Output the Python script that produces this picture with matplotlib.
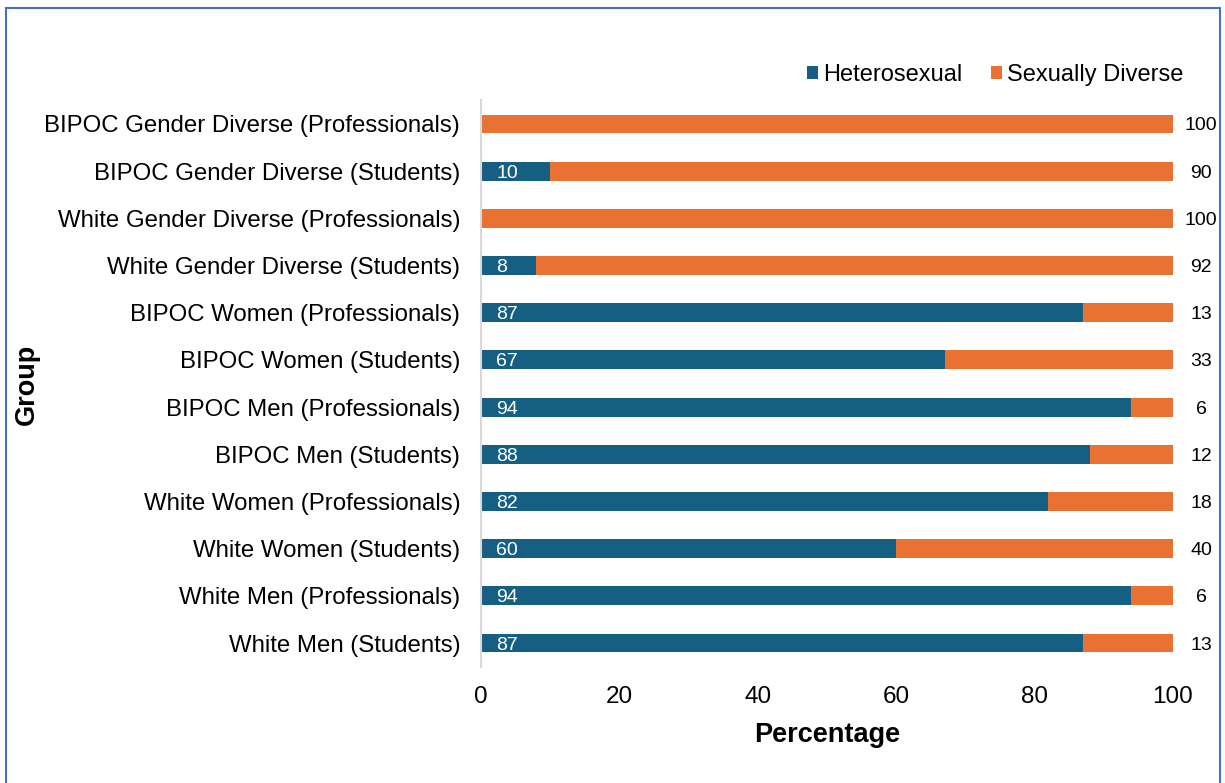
import matplotlib.pyplot as plt
from matplotlib.patches import Rectangle

plt.rcParams['font.family'] = ['Liberation Sans', 'DejaVu Sans']

# groups from bottom to top
groups = ['White Men (Students)', 'White Men (Professionals)',
          'White Women (Students)', 'White Women (Professionals)',
          'BIPOC Men (Students)', 'BIPOC Men (Professionals)',
          'BIPOC Women (Students)', 'BIPOC Women (Professionals)',
          'White Gender Diverse (Students)', 'White Gender Diverse (Professionals)',
          'BIPOC Gender Diverse (Students)', 'BIPOC Gender Diverse (Professionals)']
hetero = [87, 94, 60, 82, 88, 94, 67, 87, 8, 0, 10, 0]
diverse = [13, 6, 40, 18, 12, 6, 33, 13, 92, 100, 90, 100]

blue = '#156082'
orange = '#E97132'

fig = plt.figure(figsize=(12.25, 7.83), dpi=100)
ax = fig.add_axes([481/1225, 1-666.6/783, (1173-481)/1225, (666.6-100.4)/783])

y = range(len(groups))
ax.barh(y, hetero, height=0.4, color=blue, label='Heterosexual')
ax.barh(y, diverse, left=hetero, height=0.4, color=orange, label='Sexually Diverse')

# value labels
for i in y:
    if hetero[i] > 0:
        ax.annotate(str(hetero[i]), (0, i), xytext=(15, 0), textcoords='offset pixels',
                    ha='left', va='center_baseline', color='white', fontsize=14)
    ax.annotate(str(diverse[i]), (100, i), xytext=(28, 0), textcoords='offset pixels',
                ha='center', va='center_baseline', color='black', fontsize=14)

ax.set_xlim(0, 100)
ax.set_ylim(-0.5, len(groups) - 0.5)
ax.set_yticks(list(y))
ax.set_yticklabels(groups, fontsize=17.3)
ax.set_xticks([0, 20, 40, 60, 80, 100])
ax.tick_params(axis='x', labelsize=17.5, length=0, pad=14)
ax.tick_params(axis='y', length=0, pad=15)
for s in ['top', 'right', 'bottom']:
    ax.spines[s].set_visible(False)
ax.spines['left'].set_color('#D9D9D9')
ax.spines['left'].set_linewidth(1.5)

ax.set_xlabel('Percentage', fontsize=19.5, fontweight='bold', labelpad=10)
fig.text(27/1225, 1-384/783, 'Group', rotation=90, fontsize=19.5, fontweight='bold',
         ha='center', va='center')

ax.legend(loc='lower right', bbox_to_anchor=(1.046, 0.988), ncol=2, frameon=False,
          fontsize=17, handlelength=0.5, handleheight=0.5, handletextpad=0.2,
          columnspacing=1.2, borderaxespad=0.5)

# outer border
fig.patches.append(Rectangle((6/1225, -0.01), (1220-6)/1225, 1.01-8/783,
                             transform=fig.transFigure, fill=False,
                             edgecolor='#4472C4', linewidth=1.5))

plt.savefig('out.png', dpi=100)
